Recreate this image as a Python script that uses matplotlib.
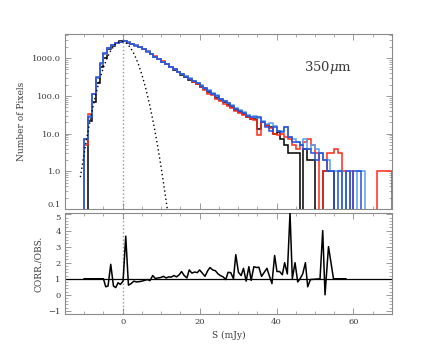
import numpy as np
import matplotlib
matplotlib.use("Agg")
import matplotlib.pyplot as plt
from matplotlib.ticker import FixedLocator, MultipleLocator, AutoMinorLocator, LogLocator, NullFormatter, FuncFormatter

plt.rcParams['font.family'] = ['DejaVu Serif']
plt.rcParams['mathtext.fontset'] = 'dejavuserif'

# ---------------- data ----------------
bin_edges = list(range(-10, 71))  # 1 mJy bins from -10 to 70

black_counts = [0, 22, 68, 220, 600, 1000, 1750, 2150, 2500, 2800,
                2900, 2600, 2400, 2200, 1950, 1700, 1500, 1280, 1100, 930,
                790, 680, 570, 490, 420, 360, 320, 270, 240, 210,
                175, 150, 125, 110, 90, 80, 68, 58, 52, 42,
                38, 33, 28, 25, 24, 13, 20, 17, 15, 10,
                11, 7, 5, 3, 3, 3, 0, 4, 2, 2,
                0, 0, 1, 1, 1, 0, 0, 0, 0, 0,
                0, 0, 0, 0, 0, 0, 0, 0, 0, 0]
red_counts = [5, 33, 110, 290, 720, 1300, 1850, 2250, 2550, 2750,
              2800, 2550, 2400, 2200, 2000, 1750, 1520, 1300, 1120, 960,
              820, 700, 600, 510, 440, 380, 330, 285, 240, 205,
              170, 145, 115, 105, 85, 72, 62, 55, 47, 40,
              36, 31, 27, 24, 23, 9, 20, 16, 14, 10,
              9, 10, 8, 7, 5, 4, 5, 6, 7, 5,
              3, 0, 1, 3, 3, 4, 3, 1, 0, 1,
              0, 0, 0, 0, 0, 0, 1, 1, 1, 1]
blue_counts = [7, 28, 115, 310, 740, 1350, 1900, 2250, 2500, 2750,
               2800, 2550, 2350, 2150, 1950, 1700, 1480, 1280, 1090, 920,
               800, 690, 580, 500, 430, 370, 320, 280, 250, 215,
               185, 160, 135, 115, 98, 82, 72, 63, 55, 46,
               40, 36, 30, 27, 27, 28, 20, 15, 12, 15,
               12, 11, 15, 8, 6, 6, 5, 4, 4, 3,
               2, 3, 2, 1, 1, 0, 1, 0, 1, 0,
               1, 1, 0, 0, 0, 0, 0, 0, 0, 0]
lightblue_counts = [7, 30, 115, 300, 720, 1300, 1850, 2200, 2500, 2700,
                    2800, 2600, 2400, 2200, 2000, 1750, 1500, 1300, 1100, 940,
                    810, 690, 590, 505, 440, 380, 330, 290, 250, 220,
                    190, 165, 140, 118, 105, 85, 74, 66, 56, 48,
                    42, 38, 31, 28, 30, 26, 21, 18, 19, 16,
                    12, 12, 15, 8, 7, 6, 5, 7, 4, 5,
                    4, 3, 2, 2, 1, 1, 1, 0, 1, 0,
                    0, 1, 1, 0, 0, 0, 0, 0, 0, 0]

gauss_s = [-11, -10, -9, -8, -7, -6, -5, -4, -3, -2, -1, 0,
           1, 2, 3, 4, 5, 6, 7, 8, 9, 10, 11, 11.6]
gauss_n = [0.70, 3.06, 11.6, 38, 108, 266, 565, 1038, 1651, 2271, 2702, 2782,
           2478, 1909, 1271, 733, 366, 158, 58.9, 19.0, 5.3, 1.28, 0.27, 0.1]

ratio_s = [-10, -5.0, -4.4, -3.8, -3.1, -2.4, -1.8, -1.2, -0.6, 0.1, 0.8, 1.5,
           2.2, 2.9, 3.6, 4.3, 5.0, 5.7, 6.4, 7.1, 7.8, 8.5, 9.2, 9.9,
           10.6, 11.3, 12.0, 12.6, 13.3, 14.0, 14.7, 15.3, 16.0, 16.7, 17.3, 18.0,
           18.7, 19.4, 20.0, 20.7, 21.4, 22.1, 22.7, 23.4, 24.1, 24.8, 25.4, 26.1,
           26.8, 27.4, 28.1, 28.8, 29.4, 30.1, 30.8, 31.4, 32.1, 32.8, 33.4, 34.1,
           34.8, 35.4, 36.1, 36.8, 37.5, 38.1, 38.8, 39.5, 40.1, 40.8, 41.5, 42.1,
           42.8, 43.5, 44.1, 44.8, 45.5, 46.1, 46.8, 47.5, 48.1, 48.8, 51.3, 52.0,
           52.6, 53.5, 54.8, 58.0]
ratio_v = [1.0, 1.0, 0.5, 0.55, 1.9, 0.55, 0.45, 0.75, 0.65, 0.85, 3.65, 0.6,
           0.7, 0.85, 0.8, 0.82, 0.85, 0.9, 0.95, 0.88, 1.2, 1.02, 1.05, 1.08,
           1.15, 1.05, 1.12, 1.1, 1.2, 1.12, 1.25, 1.45, 1.2, 1.05, 1.55, 1.35,
           1.42, 1.38, 1.55, 1.35, 1.15, 1.5, 1.7, 1.55, 1.5, 1.3, 1.2, 1.12,
           0.95, 1.4, 1.38, 1.0, 2.5, 1.4, 1.2, 1.65, 0.85, 1.75, 0.9, 1.75,
           1.7, 1.72, 1.15, 1.4, 1.65, 1.2, 0.7, 2.45, 1.45, 1.45, 1.25, 2.0,
           1.3, 5.1, 1.0, 2.0, 0.8, 1.0, 1.3, 2.0, 0.5, 0.95, 1.0, 4.0,
           0.0, 3.0, 1.0, 1.0]

# ---------------- figure ----------------
fig = plt.figure(figsize=(4.36, 3.49), dpi=100)
ax1 = fig.add_axes([0.149, 0.401, 0.750, 0.502])
ax2 = fig.add_axes([0.149, 0.100, 0.750, 0.290])

spine_col = '#8a8a8a'
txt_col = '#3a3a3a'
for ax in (ax1, ax2):
    for sp in ax.spines.values():
        sp.set_color(spine_col)
        sp.set_linewidth(0.8)
    ax.tick_params(which='both', direction='in', top=True, right=True,
                   color=spine_col, labelsize=6, labelcolor=txt_col)
    ax.tick_params(which='major', length=4, width=0.6, pad=3)
    ax.tick_params(which='minor', length=2, width=0.5)
    ax.set_xlim(-15, 70)
    ax.xaxis.set_major_locator(MultipleLocator(20))
    ax.xaxis.set_minor_locator(MultipleLocator(5))
    ax.axvline(0, color='#999999', linestyle=':', linewidth=1.0, zorder=1)

floor = 1e-3
edges = np.array(bin_edges, dtype=float)
series = [(black_counts, 'black'), (red_counts, '#ff2a1a'),
          (lightblue_counts, '#5a9ff0'), (blue_counts, '#2a50d8')]
for counts, col in series:
    c = np.array(counts, dtype=float)
    c = np.where(c > 0, c, floor)
    ax1.stairs(c, edges, baseline=floor, color=col, linewidth=1.1, zorder=3)

ax1.plot(gauss_s, gauss_n, color='black', linestyle=(0, (1, 2)), linewidth=1.0, zorder=4)
ax1.set_yscale('log')
ax1.set_ylim(0.1, 4400)
ax1.yaxis.set_major_locator(FixedLocator([0.1, 1, 10, 100, 1000]))
ax1.yaxis.set_minor_locator(LogLocator(base=10, subs=np.arange(2, 10)))
ax1.yaxis.set_minor_formatter(NullFormatter())
ax1.yaxis.set_major_formatter(FuncFormatter(lambda v, p: f"{v:.1f}"))
ax1.set_xticklabels([])
ax1.set_ylabel('Number of Pixels', fontsize=6.5, color=txt_col, labelpad=4)
ax1.text(0.73, 0.79, r'350$\mu$m', transform=ax1.transAxes, fontsize=9.5,
         color=txt_col, va='baseline')

ax2.axhline(1, color='black', linewidth=0.9, zorder=2)
ax2.plot(ratio_s, ratio_v, color='black', linewidth=1.1, zorder=3)
ax2.set_ylim(-1.2, 5.1)
ax2.yaxis.set_major_locator(MultipleLocator(1))
ax2.yaxis.set_minor_locator(AutoMinorLocator(5))
ax2.set_ylabel('CORR./OBS.', fontsize=6.5, color=txt_col, labelpad=4)
ax2.set_xlabel('S (mJy)', fontsize=6.5, color=txt_col, labelpad=3)

fig.canvas.draw()
# nudge the adjoining tick labels apart, as in the reference
for lab in ax1.get_yticklabels():
    if lab.get_text() == '0.1':
        lab.set_va('bottom')
for lab in ax2.get_yticklabels():
    if lab.get_text() == '5':
        lab.set_va('top')

fig.savefig('out.png', dpi=100)
